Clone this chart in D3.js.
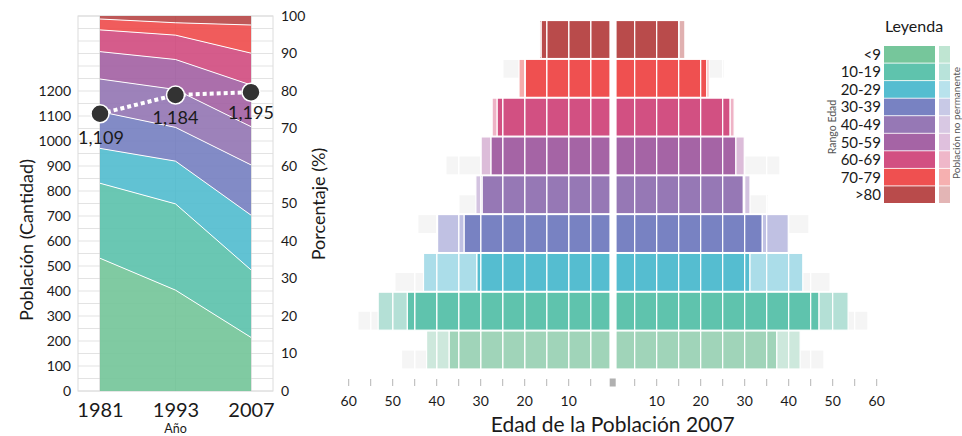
<!DOCTYPE html>
<html><head><meta charset="utf-8">
<script src="https://cdn.jsdelivr.net/npm/d3@7"></script>
<style>
html,body{margin:0;padding:0;background:#fff;}
svg{display:block;font-family:Lato,"Open Sans",sans-serif;}
</style></head>
<body><svg id="c" width="962" height="436"></svg>
<script>
// ---------- DATA ----------
const ages = ["<9","10-19","20-29","30-39","40-49","50-59","60-69","70-79",">80"];
const years = ["1981","1993","2007"];
const totals = [1109, 1184, 1195];
const pct1981 = [35.4, 20.0, 9.3, 9.8, 8.7, 7.3, 5.8, 2.9, 0.8];
const pct1993 = [26.9, 23.0, 11.4, 9.0, 10.1, 8.0, 6.5, 3.3, 1.8];
const pct2007 = [14.3, 18.0, 14.6, 13.4, 10.2, 11.1, 8.5, 7.5, 2.4];
const leftTicks = [0,100,200,300,400,500,600,700,800,900,1000,1100,1200];
const rightTicks = [0,10,20,30,40,50,60,70,80,90,100];
// pyramid 2007 (left / right halves)
const leftPerm     = [37.2, 46.7, 30.9, 33.8, 29.7, 27.7, 26.3, 19.9, 16.3];
const leftNonPerm  = [5.1, 6.6, 12.1, 6.0, 1.4, 2.2, 1.1, 1.4, 0.3];
const rightPerm    = [37.3, 46.9, 31.2, 34.0, 29.7, 28.0, 26.7, 21.4, 15.1];
const rightNonPerm = [5.3, 6.6, 12.0, 5.9, 1.5, 1.9, 0.9, 0.5, 1.3];
const ghostTopL = [0, 0, 0, 44.3, 0, 0, 0, 25.2, 0];
const ghostBotL = [48.0, 57.9, 49.5, 0, 35.2, 37.9, 0, 0, 0];
const ghostTopR = [0, 0, 0, 44.6, 0, 0, 0, 25.4, 0];
const ghostBotR = [48.0, 58.0, 49.4, 0, 35.3, 38.0, 0, 0, 0];
const pyrTicks = [5,10,15,20,25,30,35,40,45,50,55,60];
const pyrLabels = [10,20,30,40,50,60];

// ---------- STYLE ----------
const mainColors  = ["#76c69b","#5fc3ad","#55bdd0","#7882c2","#9678b5","#a564a5","#d25082","#ef5050","#b94b4b"];
const lightColors = ["#bfe5d2","#b8e3da","#b8e2ec","#c8c9e6","#d8c8e3","#dfc0dd","#efb7c9","#f6b0b0","#e3b5b5"];
const pyrMain  = ["#a0d4b9","#5fc3ad","#55bdd0","#7882c2","#9678b5","#a564a5","#d25082","#ef5050","#b94b4b"];
const pyrLight = ["#cde8dc","#b4e0d6","#abdde9","#c0c1e3","#d3c3e0","#dcbcd9","#eeb3c6","#f5acac","#e0b0b0"];
const txt = "#1a1a1a";

const svg = d3.select("#c");

// ================= LEFT CHART =================
const xY = d3.scalePoint().domain(years).range([100, 251]);
const yPop = d3.scaleLinear().domain([0, 1500]).range([391, 16]);
const yPct = d3.scaleLinear().domain([0, 100]).range([391, 16]);
const boxL = 78, boxR = 273;

const gL = svg.append("g");
gL.append("g").selectAll("line").data(d3.range(0, 1501, 50)).join("line")
  .attr("x1", boxL).attr("x2", boxR)
  .attr("y1", d => yPop(d)).attr("y2", d => yPop(d))
  .attr("stroke", "#e3e3e3").attr("stroke-width", 1);
gL.append("rect").attr("x", boxL).attr("y", yPop(1500)).attr("width", boxR - boxL)
  .attr("height", yPop(0) - yPop(1500)).attr("fill", "none").attr("stroke", "#dcdcdc");
gL.append("g").selectAll("line").data(years).join("line")
  .attr("x1", d => xY(d)).attr("x2", d => xY(d))
  .attr("y1", yPop(1500)).attr("y2", yPop(0))
  .attr("stroke", "#c8c8c8");

const table = years.map((y, i) => {
  const src = [pct1981, pct1993, pct2007][i];
  const o = {year: y};
  ages.forEach((a, j) => o[a] = src[j]);
  return o;
});
const stack = d3.stack().keys(ages)(table);
const area = d3.area().x(d => xY(d.data.year)).y0(d => yPct(d[0])).y1(d => yPct(d[1]));
const line = d3.line().x(d => xY(d.data.year)).y(d => yPct(d[1]));
gL.append("g").selectAll("path").data(stack).join("path")
  .attr("d", area).attr("fill", (d, i) => mainColors[i]).attr("fill-opacity", 0.93);
gL.append("g").selectAll("path").data(stack.slice(0, -1)).join("path")
  .attr("d", line).attr("fill", "none").attr("stroke", "#fff").attr("stroke-width", 1);

const axL = gL.append("g").attr("transform", `translate(${boxL},0)`)
  .call(d3.axisLeft(yPop).tickValues(leftTicks).tickSize(0).tickPadding(7).tickFormat(d3.format("d")));
axL.select(".domain").remove();
axL.selectAll("text").attr("font-size", 14).attr("fill", txt).attr("font-family", "Lato");
const axR = gL.append("g").attr("transform", `translate(${boxR},0)`)
  .call(d3.axisRight(yPct).tickValues(rightTicks).tickSize(0).tickPadding(8));
axR.select(".domain").remove();
axR.selectAll("text").attr("font-size", 14).attr("fill", txt).attr("font-family", "Lato");
const axB = gL.append("g").attr("transform", `translate(0,${yPop(0)})`)
  .call(d3.axisBottom(xY).tickSize(0).tickPadding(12));
axB.select(".domain").remove();
axB.selectAll("text").attr("font-size", 20).attr("fill", txt).attr("font-family", "Lato");

gL.append("text").attr("transform", "translate(33,240) rotate(-90)").attr("text-anchor", "middle")
  .attr("font-size", 18).attr("fill", txt).text("Población (Cantidad)");
gL.append("text").attr("transform", "translate(325,204) rotate(-90)").attr("text-anchor", "middle")
  .attr("font-size", 18).attr("fill", txt).text("Porcentaje (%)");
gL.append("text").attr("x", xY("1993")).attr("y", 433).attr("text-anchor", "middle")
  .attr("font-size", 12.5).attr("fill", txt).text("Año");

const tot = years.map((y, i) => ({year: y, v: totals[i]}));
gL.append("path").datum(tot)
  .attr("d", d3.line().x(d => xY(d.year)).y(d => yPop(d.v)))
  .attr("fill", "none").attr("stroke", "#fff").attr("stroke-width", 4).attr("stroke-dasharray", "4,3");
gL.append("g").selectAll("circle").data(tot).join("circle")
  .attr("cx", d => xY(d.year)).attr("cy", d => yPop(d.v)).attr("r", 9)
  .attr("fill", "#333").attr("stroke", "#fff").attr("stroke-width", 1.5);
const lblDy = [30, 29, 27];
const lblDx = [1, 0, 0];
gL.append("g").selectAll("text").data(tot).join("text")
  .attr("x", (d, i) => xY(d.year) + lblDx[i]).attr("y", (d, i) => yPop(d.v) + lblDy[i])
  .attr("text-anchor", "middle").attr("font-size", 18).attr("fill", txt)
  .text(d => d3.format(",")(d.v));

// ================= PYRAMID =================
const cx = 612.7;
const xL = d3.scaleLinear().domain([0, 60]).range([cx, cx - 264]);
const xR = d3.scaleLinear().domain([0, 60]).range([cx, cx + 264]);
const yB = d3.scaleBand().domain(ages).range([369, 20.5]).paddingInner(0.02);
const bw = yB.bandwidth();
const innerL = cx - 2.7, innerR = cx + 3.3;

function cells(a, b) {
  const out = [];
  let s = a;
  while (s < b - 1e-6) {
    const e = Math.min(b, (Math.floor(s / 5 + 1e-9) + 1) * 5);
    out.push([s, e]);
    s = e;
  }
  return out;
}
function segRects(side, a, b, y, h, fill, g, stroke) {
  cells(a, b).forEach(([s, e]) => {
    let x0, x1;
    if (side === "L") { x1 = Math.min(xL(s), innerL); x0 = xL(e); }
    else { x0 = Math.max(xR(s), innerR); x1 = xR(e); }
    if (x1 - x0 <= 0) return;
    g.append("rect").attr("x", x0).attr("y", y).attr("width", x1 - x0).attr("height", h)
      .attr("fill", fill).attr("stroke", stroke).attr("stroke-width", 1.2);
  });
}
const gP = svg.append("g");
const gGhost = gP.append("g"), gBars = gP.append("g");
const ghostFill = "#f5f5f5";
ages.forEach((a, i) => {
  const y = yB(a);
  if (ghostTopL[i] > 0) segRects("L", 0, ghostTopL[i], y, bw / 2, ghostFill, gGhost, "#fff");
  if (ghostBotL[i] > 0) segRects("L", 0, ghostBotL[i], y + bw / 2, bw / 2, ghostFill, gGhost, "#fff");
  if (ghostTopR[i] > 0) segRects("R", 0, ghostTopR[i], y, bw / 2, ghostFill, gGhost, "#fff");
  if (ghostBotR[i] > 0) segRects("R", 0, ghostBotR[i], y + bw / 2, bw / 2, ghostFill, gGhost, "#fff");
  segRects("L", 0, leftPerm[i], y, bw, pyrMain[i], gBars, "#fff");
  segRects("L", leftPerm[i], leftPerm[i] + leftNonPerm[i], y, bw, pyrLight[i], gBars, "#fff");
  segRects("R", 0, rightPerm[i], y, bw, pyrMain[i], gBars, "#fff");
  segRects("R", rightPerm[i], rightPerm[i] + rightNonPerm[i], y, bw, pyrLight[i], gBars, "#fff");
});

const gA = gP.append("g");
gA.selectAll("line.l").data(pyrTicks).join("line").attr("class", "l")
  .attr("x1", d => xL(d)).attr("x2", d => xL(d)).attr("y1", 379).attr("y2", 386)
  .attr("stroke", "#b5b5b5").attr("stroke-width", 1);
gA.selectAll("line.r").data(pyrTicks).join("line").attr("class", "r")
  .attr("x1", d => xR(d)).attr("x2", d => xR(d)).attr("y1", 379).attr("y2", 386)
  .attr("stroke", "#b5b5b5").attr("stroke-width", 1);
gA.append("rect").attr("x", cx - 3).attr("y", 378.5).attr("width", 6).attr("height", 8).attr("fill", "#b0b0b0");
gA.selectAll("text.l").data(pyrLabels).join("text").attr("class", "l")
  .attr("x", d => xL(d)).attr("y", 406).attr("text-anchor", "middle")
  .attr("font-size", 14).attr("fill", txt).text(d => d);
gA.selectAll("text.r").data(pyrLabels).join("text").attr("class", "r")
  .attr("x", d => xR(d)).attr("y", 406).attr("text-anchor", "middle")
  .attr("font-size", 14).attr("fill", txt).text(d => d);
gA.append("text").attr("x", cx).attr("y", 432).attr("text-anchor", "middle")
  .attr("font-size", 21).attr("fill", txt).text("Edad de la Población 2007");

// ================= LEGEND =================
const gG = svg.append("g");
const yLg = d3.scaleBand().domain(ages).range([46, 203]).paddingInner(0.05);
gG.append("text").attr("x", 914).attr("y", 32).attr("text-anchor", "middle")
  .attr("font-size", 16).attr("fill", txt).text("Leyenda");
gG.selectAll("rect.m").data(ages).join("rect").attr("class", "m")
  .attr("x", 884).attr("y", d => yLg(d)).attr("width", 51).attr("height", yLg.bandwidth())
  .attr("fill", (d, i) => mainColors[i]);
gG.selectAll("rect.n").data(ages).join("rect").attr("class", "n")
  .attr("x", 939).attr("y", d => yLg(d)).attr("width", 11).attr("height", yLg.bandwidth())
  .attr("fill", (d, i) => lightColors[i]);
gG.selectAll("text.a").data(ages).join("text").attr("class", "a")
  .attr("x", 881).attr("y", d => yLg(d) + yLg.bandwidth() / 2 + 5.5).attr("text-anchor", "end")
  .attr("font-size", 15).attr("fill", txt).text(d => d);
gG.append("text").attr("transform", "translate(836,127) rotate(-90)").attr("text-anchor", "middle")
  .attr("font-size", 10.5).attr("fill", "#555").text("Rango Edad");
gG.append("text").attr("transform", "translate(960,123) rotate(-90)").attr("text-anchor", "middle")
  .attr("font-size", 10).attr("fill", "#555").text("Población no permanente");
</script></body></html>
